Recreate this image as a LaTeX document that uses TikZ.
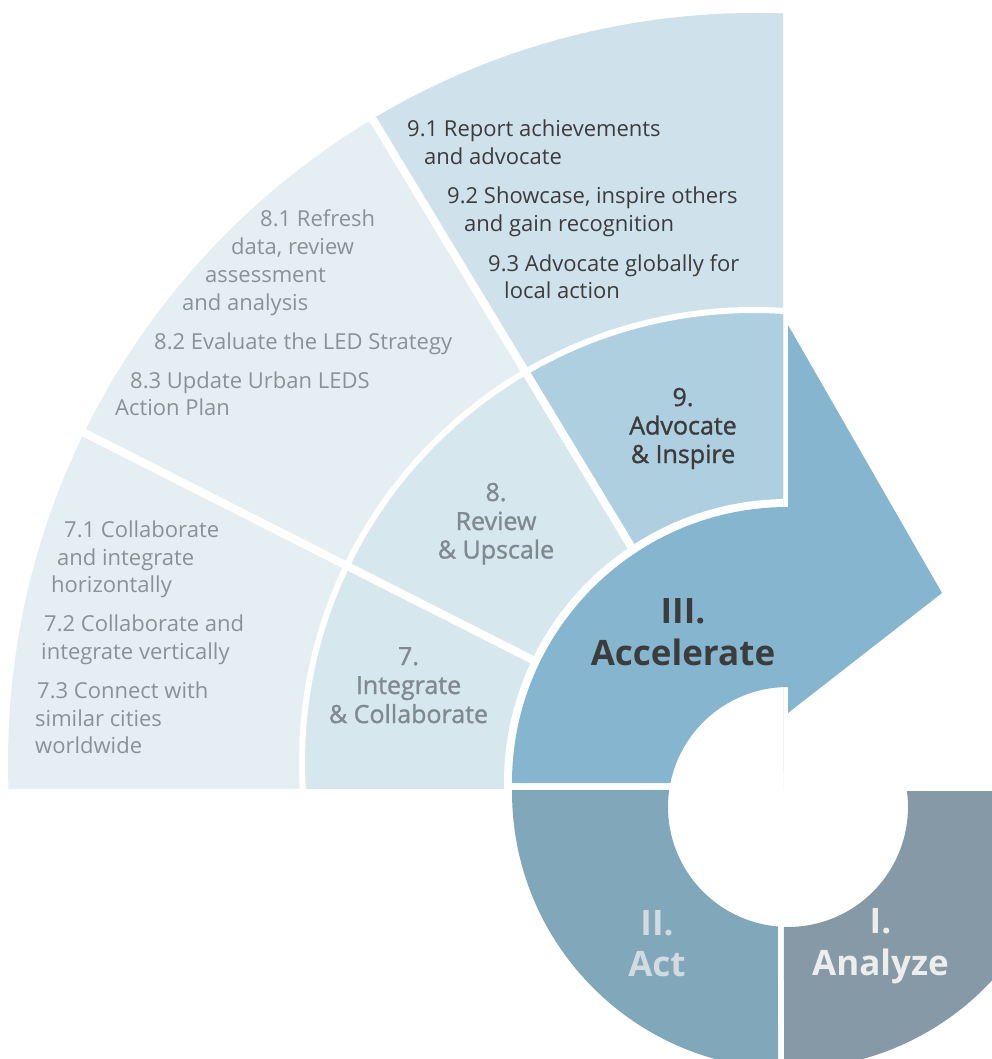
\documentclass[tikz,border=0pt]{standalone}
\usepackage{fontspec}
\setmainfont{Open Sans}
\newfontfamily\semib{Open Sans}[FakeBold=1.2]
\definecolor{outer78}{HTML}{E5EEF3}
\definecolor{outer9}{HTML}{CFE2EB}
\definecolor{mid78}{HTML}{D6E7EE}
\definecolor{mid9}{HTML}{AECFDF}
\definecolor{accel}{HTML}{86B5CF}
\definecolor{act}{HTML}{80A7BA}
\definecolor{analyze}{HTML}{8599A6}
\definecolor{txtgray}{HTML}{899297}
\definecolor{txtdark}{HTML}{3C3C3C}
\definecolor{labgray}{HTML}{80898F}
\definecolor{acttxt}{HTML}{D3DBE0}
\definecolor{anatxt}{HTML}{EDEDED}
\begin{document}
\begin{tikzpicture}[x=1pt,y=-1pt,
  sub/.style={anchor=base west, inner sep=0pt, font=\fontsize{22}{26}\selectfont},
  subgray/.style={sub, text=txtgray},
  subdark/.style={sub, text=txtdark},
  midlab/.style={anchor=base, inner sep=0pt, font=\semib\fontsize{25}{29}\selectfont},
  biglab/.style={anchor=base, inner sep=0pt, font=\bfseries\fontsize{35}{40}\selectfont},
  gapline/.style={draw=white, line width=8pt}]
\useasboundingbox (0,0) rectangle (992,1059);
\clip (0,0) rectangle (992,1059);
% quarter with sub-step bands
\begin{scope}
  \clip (0,0) rectangle (783,788);
  \clip (757,762) circle[radius=749];
  \fill[outer78] (0,0) rectangle (800,800);
  \fill[outer9] (240.5,-99.5) -- (766.5,770.5) -- (900,770) -- (900,-100) -- cycle;
  \begin{scope}
    \clip (754,762) circle[radius=450];
    \fill[mid78] (0,0) rectangle (800,800);
    \fill[mid9] (240.5,-99.5) -- (766.5,770.5) -- (900,770) -- (900,-100) -- cycle;
  \end{scope}
  \draw[white, line width=6pt] (754,762) circle[radius=452];
  \coordinate (a1) at (-20,380);
  \coordinate (a2) at (600,694);
  \coordinate (b1) at (240.5,-99.5);
  \coordinate (b2) at (766.5,770.5);
  \draw[gapline] (a1) -- (a2);
  \draw[gapline] (b1) -- (b2);
  \fill[white] (788,783) circle[radius=284];
\end{scope}
% III Accelerate arrow
\fill[accel] (512,783) arc[start angle=180, end angle=270, radius=276]
  -- (788,325) -- (942,593) -- (788,713) -- (788,687)
  arc[start angle=270, end angle=191.5, radius=120] -- cycle;
% II Act
\fill[act] (669.2,790) arc[start angle=188.1, end angle=94.8, radius=120]
  -- (778,1068.8) arc[start angle=92.28, end angle=180.41, radius=277] -- cycle;
% I Analyze
\fill[analyze] (906.9,791) arc[start angle=-7.66, end angle=91.91, radius=120]
  -- (784,1068.95) arc[start angle=91.03, end angle=-0.21, radius=277] -- cycle;
% sub-step texts 9
\node[subdark] (t91a) at (407,137) {9.1 Report achievements};
\node[subdark] (t91b) at (424,164.5) {and advocate};
\node[subdark] (t92a) at (447,204) {9.2 Showcase, inspire others};
\node[subdark] (t92b) at (464,231.5) {and gain recognition};
\node[subdark] (t93a) at (488,271) {9.3 Advocate globally for};
\node[subdark] (t93b) at (504,298.5) {local action};
% sub-step texts 8
\node[subgray] (t81a) at (260,227) {8.1 Refresh};
\node[subgray] (t81b) at (231,254.5) {data, review};
\node[subgray] (t81c) at (205,282) {assessment};
\node[subgray] (t81d) at (182,310) {and analysis};
\node[subgray] (t82) at (154,349.5) {8.2 Evaluate the LED Strategy};
\node[subgray] (t83a) at (130,388) {8.3 Update Urban LEDS};
\node[subgray] (t83b) at (115,415.5) {Action Plan};
% sub-step texts 7
\node[subgray] (t71a) at (64,537.5) {7.1 Collaborate};
\node[subgray] (t71b) at (57,565) {and integrate};
\node[subgray] (t71c) at (51,592) {horizontally};
\node[subgray] (t72a) at (44,631.5) {7.2 Collaborate and};
\node[subgray] (t72b) at (41,659) {integrate vertically};
\node[subgray] (t73a) at (37,698.5) {7.3 Connect with};
\node[subgray] (t73b) at (35,726) {similar cities};
\node[subgray] (t73c) at (35,753) {worldwide};
% step labels
\node[midlab, text=txtdark] (s9a) at (683,406) {9.};
\node[midlab, text=txtdark] (s9b) at (683,434.5) {Advocate};
\node[midlab, text=txtdark] (s9c) at (683,463) {\&~Inspire};
\node[midlab, text=labgray] (s8a) at (496,501) {8.};
\node[midlab, text=labgray] (s8b) at (496,530) {Review};
\node[midlab, text=labgray] (s8c) at (496,558.5) {\&~Upscale};
\node[midlab, text=labgray] (s7a) at (408.5,665) {7.};
\node[midlab, text=labgray] (s7b) at (408.5,694) {Integrate};
\node[midlab, text=labgray] (s7c) at (408.5,723) {\&~Collaborate};
% phase labels
\node[biglab, text=txtdark] (p3a) at (683,623) {III.};
\node[biglab, text=txtdark] (p3b) at (683,665) {Accelerate};
\node[biglab, text=acttxt] (p2a) at (657,935) {II.};
\node[biglab, text=acttxt] (p2b) at (657,976.5) {Act};
\node[biglab, text=anatxt] (p1a) at (880.5,933) {I.};
\node[biglab, text=anatxt] (p1b) at (880.5,975) {Analyze};
\end{tikzpicture}
\end{document}
